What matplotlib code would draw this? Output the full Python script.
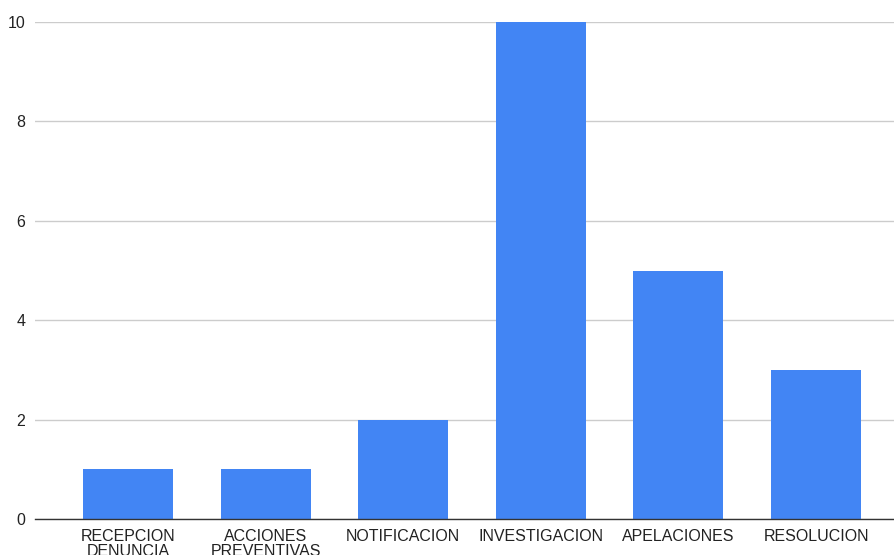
import matplotlib
matplotlib.use('Agg')
import matplotlib.pyplot as plt

# Chart data
categories = ['RECEPCION\nDENUNCIA', 'ACCIONES\nPREVENTIVAS', 'NOTIFICACION',
              'INVESTIGACION', 'APELACIONES', 'RESOLUCION']
values = [1, 1, 2, 10, 5, 3]
y_ticks = [0, 2, 4, 6, 8, 10]

plt.rcParams['font.family'] = ['Liberation Sans', 'DejaVu Sans']

fig = plt.figure(figsize=(8.95, 5.55), dpi=100)
ax = fig.add_axes([35 / 895, 36 / 555, 860 / 895, 497 / 555])

x = range(len(categories))
ax.bar(x, values, width=0.654, color='#4285F4', zorder=3)

ax.set_xlim(-0.676, 5.574)
ax.set_ylim(0, 10)
ax.set_yticks(y_ticks)
ax.set_xticks(list(x))
ax.set_xticklabels(categories, linespacing=1.0)

ax.grid(axis='y', color='#cccccc', linewidth=1, zorder=0)
for s in ['top', 'right', 'left']:
    ax.spines[s].set_visible(False)
ax.spines['bottom'].set_color('#333333')
ax.spines['bottom'].set_linewidth(1)
ax.spines['bottom'].set_zorder(4)
ax.tick_params(axis='both', length=0, labelsize=11.5, colors='#222222')
ax.tick_params(axis='x', pad=7)
ax.tick_params(axis='y', pad=7)

fig.savefig('out.png', dpi=100)
